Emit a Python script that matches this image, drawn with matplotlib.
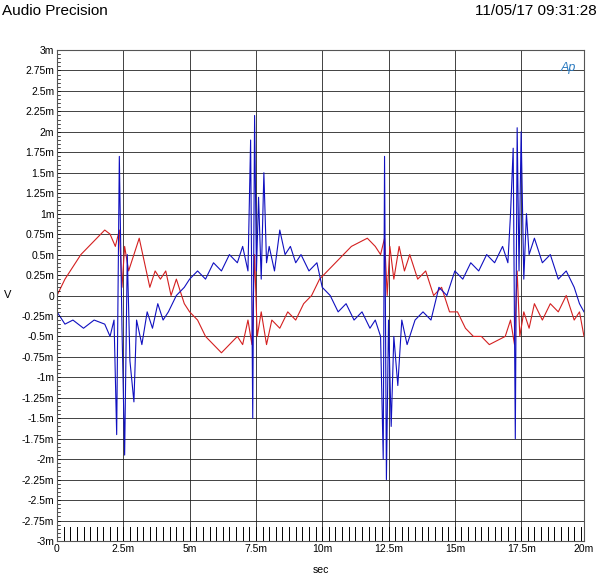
import matplotlib
matplotlib.use("Agg")
import matplotlib.pyplot as plt
import numpy as np
plt.rcParams['font.family'] = ['Liberation Sans', 'DejaVu Sans']

blue_t = [0,0.3,0.6,1.0,1.4,1.8,2.0,2.15,2.25,2.35,2.45,2.55,2.65,2.75,2.9,3.0,3.2,3.4,3.6,3.8,4.0,4.2,4.5,4.8,5.0,5.3,5.6,5.9,6.2,6.5,6.8,7.0,7.2,7.3,7.38,7.45,7.52,7.6,7.7,7.8,7.9,8.0,8.2,8.4,8.6,8.8,9.0,9.2,9.5,9.8,10.0,10.3,10.6,10.9,11.2,11.5,11.8,12.0,12.2,12.3,12.35,12.42,12.5,12.6,12.7,12.85,13.0,13.2,13.5,13.8,14.1,14.4,14.7,15.0,15.3,15.6,15.9,16.2,16.5,16.8,17.0,17.1,17.2,17.28,17.35,17.42,17.5,17.6,17.7,17.8,18.0,18.3,18.6,18.9,19.2,19.5,19.7,19.87]
blue_v = [-0.2,-0.35,-0.3,-0.4,-0.3,-0.35,-0.5,-0.3,-1.7,1.7,-0.4,-1.95,0.5,-0.8,-1.3,-0.3,-0.6,-0.2,-0.4,-0.1,-0.3,-0.2,0.0,0.1,0.2,0.3,0.2,0.4,0.3,0.5,0.4,0.6,0.3,1.9,-1.5,2.2,0.3,1.2,0.2,1.5,0.4,0.6,0.3,0.8,0.5,0.6,0.4,0.5,0.3,0.4,0.1,0.0,-0.2,-0.1,-0.3,-0.2,-0.4,-0.3,-0.5,-2.0,1.7,-2.25,-0.3,-1.6,-0.5,-1.1,-0.3,-0.6,-0.3,-0.2,-0.3,0.1,0.0,0.3,0.2,0.4,0.3,0.5,0.4,0.6,0.4,1.0,1.8,-1.75,2.05,0.3,2.0,0.2,1.0,0.5,0.7,0.4,0.5,0.2,0.3,0.1,-0.1,-0.2]
red_t = [0,0.3,0.6,0.9,1.2,1.5,1.8,2.0,2.2,2.35,2.45,2.55,2.7,2.9,3.1,3.3,3.5,3.7,3.9,4.1,4.3,4.5,4.8,5.0,5.3,5.6,5.9,6.2,6.5,6.8,7.0,7.2,7.35,7.45,7.55,7.7,7.9,8.1,8.4,8.7,9.0,9.3,9.6,9.9,10.2,10.5,10.8,11.1,11.4,11.7,12.0,12.2,12.35,12.45,12.55,12.7,12.9,13.1,13.3,13.6,13.9,14.2,14.5,14.8,15.1,15.4,15.7,16.0,16.3,16.6,16.9,17.1,17.25,17.35,17.45,17.6,17.8,18.0,18.3,18.6,18.9,19.2,19.5,19.7,19.87]
red_v = [0.0,0.2,0.35,0.5,0.6,0.7,0.8,0.75,0.6,0.8,0.1,0.6,0.3,0.5,0.7,0.4,0.1,0.3,0.2,0.3,0.0,0.2,-0.1,-0.2,-0.3,-0.5,-0.6,-0.7,-0.6,-0.5,-0.6,-0.3,-0.6,0.5,-0.5,-0.2,-0.6,-0.3,-0.4,-0.2,-0.3,-0.1,0.0,0.2,0.3,0.4,0.5,0.6,0.65,0.7,0.6,0.5,0.7,0.0,0.6,0.2,0.6,0.3,0.5,0.2,0.3,0.0,0.1,-0.2,-0.2,-0.4,-0.5,-0.5,-0.6,-0.55,-0.5,-0.3,-0.6,0.3,-0.5,-0.2,-0.4,-0.1,-0.3,-0.1,-0.2,0.0,-0.3,-0.2,-0.5]

XMAX = 19.87
fig = plt.figure(figsize=(6, 5.83), dpi=100)
ax = fig.add_axes([57/600, 42/583, 527/600, 491/583])
ax.plot(red_t, red_v, color='#d42020', lw=0.8)
ax.plot(blue_t, blue_v, color='#1010c0', lw=0.8)
ax.set_xlim(0, XMAX)
ax.set_ylim(-3, 3)
yt = np.arange(-3, 3.001, 0.25)
def fmt(v):
    if abs(v) < 1e-9: return '0'
    return ('%g' % v) + 'm'
ax.set_yticks(yt)
ax.set_yticklabels([fmt(v) for v in yt], fontsize=7.5)
xt = [0, 2.5, 5, 7.5, 10, 12.5, 15, 17.5]
ax.set_xticks(xt + [XMAX])
ax.set_xticklabels([fmt(v) for v in xt] + ['20m'], fontsize=7.5)
ax.grid(True, color='#222222', lw=0.6)
ax.tick_params(length=0, pad=2)
for s in ax.spines.values():
    s.set_color('#555555')
for x in np.arange(0.25, XMAX, 0.25):
    ax.plot([x, x], [-3, -2.83], color='black', lw=0.7)
for y in np.arange(-3, 3.001, 0.05):
    ax.plot([0, 0.12], [y, y], color='black', lw=0.5)
ax.set_xlabel('sec', fontsize=7.5, labelpad=8)
ax.set_ylabel('V', fontsize=8, rotation=0, labelpad=10, va='center')
fig.text(0.003, 0.993, 'Audio Precision', fontsize=11, va='top', ha='left')
fig.text(0.995, 0.993, '11/05/17 09:31:28', fontsize=11, va='top', ha='right')
ax.text(0.985, 0.975, 'Ap', transform=ax.transAxes, color='#2a7ac0', fontsize=9,
        style='italic', ha='right', va='top')
fig.savefig('out.png')
